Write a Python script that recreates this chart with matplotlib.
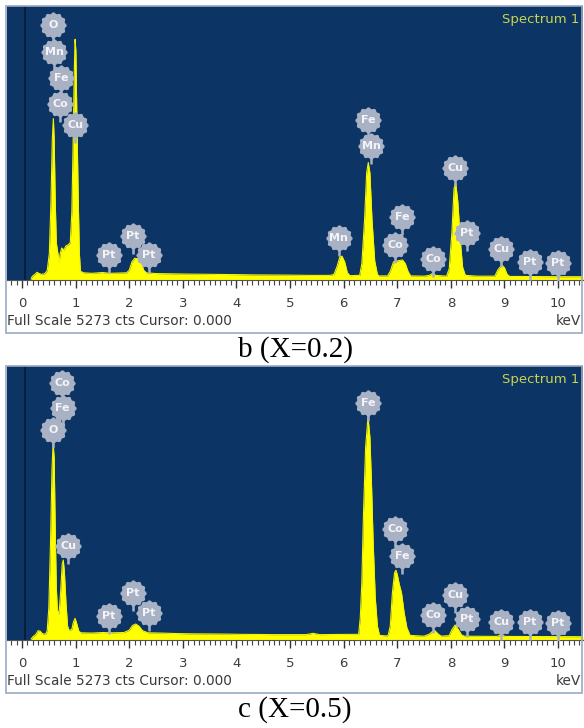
import numpy as np
import matplotlib.pyplot as plt
from matplotlib import transforms
from matplotlib.patches import Rectangle

plt.rcParams['font.family'] = ['DejaVu Sans']

W, H = 584, 728
FULL_SCALE = 5273

# EDS spectrum, sample b (X=0.2): energy (keV) and counts
energy_b = [0.17, 0.19, 0.24, 0.28, 0.31, 0.36, 0.42, 0.47, 0.51, 0.54, 0.565, 0.585,
            0.60, 0.62, 0.64, 0.66, 0.695, 0.71, 0.74, 0.78, 0.82, 0.86, 0.90, 0.93,
            0.955, 0.975, 0.99, 1.005, 1.025, 1.05, 1.07, 1.09, 1.15, 1.3, 1.5, 1.65,
            1.8, 1.95, 2.0, 2.05, 2.10, 2.18, 2.23, 2.27, 2.32, 2.5, 2.8, 3.1, 3.4,
            3.7, 4.0, 4.3, 4.6, 5.0, 5.4, 5.75, 5.82, 5.88, 5.93, 5.97, 6.02, 6.07,
            6.12, 6.30, 6.34, 6.39, 6.43, 6.46, 6.49, 6.53, 6.58, 6.63, 6.66, 6.82,
            6.87, 6.93, 7.0, 7.1, 7.15, 7.2, 7.25, 7.5, 7.6, 7.66, 7.72, 7.92, 7.97,
            8.02, 8.06, 8.09, 8.13, 8.18, 8.22, 8.27, 8.5, 8.82, 8.88, 8.95, 9.0,
            9.05, 9.1, 9.5, 10.0, 10.47]
counts_b = [0, 50, 90, 130, 110, 90, 100, 160, 500, 1500, 2700, 3100,
            2700, 1500, 700, 560, 330, 480, 600, 560, 640, 660, 700, 1300,
            2700, 4000, 4630, 4400, 3000, 1500, 500, 150, 120, 110, 125, 110,
            115, 120, 170, 330, 400, 390, 300, 170, 120, 105, 100, 95, 92,
            88, 85, 80, 78, 75, 70, 70, 90, 250, 430, 440, 330, 120,
            65, 70, 300, 1130, 2050, 2250, 2050, 1130, 350, 90, 60, 60,
            150, 330, 350, 367, 300, 150, 60, 55, 70, 110, 70, 55, 200,
            900, 1750, 1860, 1500, 700, 230, 70, 55, 55, 180, 270, 220,
            90, 50, 48, 45, 45]

# EDS spectrum, sample c (X=0.5)
energy_c = [0.17, 0.20, 0.26, 0.30, 0.34, 0.38, 0.44, 0.47, 0.50, 0.53, 0.56, 0.58,
            0.60, 0.62, 0.64, 0.66, 0.69, 0.72, 0.75, 0.77, 0.79, 0.82, 0.85, 0.88,
            0.93, 0.96, 0.99, 1.02, 1.06, 1.1, 1.3, 1.5, 1.7, 1.9, 2.0, 2.06, 2.12,
            2.18, 2.25, 2.35, 2.6, 2.9, 3.2, 3.5, 3.8, 4.1, 4.4, 4.7, 5.0, 5.3,
            5.43, 5.55, 5.9, 6.2, 6.28, 6.31, 6.34, 6.37, 6.41, 6.455, 6.49, 6.52,
            6.55, 6.59, 6.63, 6.67, 6.80, 6.83, 6.87, 6.91, 6.95, 6.975, 7.0, 7.04,
            7.08, 7.13, 7.18, 7.24, 7.5, 7.6, 7.69, 7.76, 7.82, 7.97, 8.02, 8.08,
            8.13, 8.2, 8.25, 8.85, 8.94, 9.02, 10.47]
counts_c = [0, 40, 90, 160, 150, 100, 95, 160, 600, 1800, 3300, 3780,
            3500, 2100, 1000, 560, 480, 900, 1450, 1525, 1300, 700, 250, 160,
            190, 330, 400, 300, 150, 120, 115, 125, 120, 125, 170, 260, 290,
            250, 160, 120, 115, 105, 100, 98, 95, 90, 88, 85, 85, 85,
            110, 85, 88, 90, 90, 400, 1100, 2400, 3700, 4290, 3900, 3000,
            1900, 800, 250, 70, 60, 70, 250, 890, 1280, 1330, 1250, 1050,
            890, 500, 220, 70, 55, 95, 174, 100, 55, 65, 180, 270,
            200, 80, 55, 50, 75, 50, 45]

# element markers: symbol, energy (keV), label height (counts)
labels_b = [("O", 0.58, 4900), ("Mn", 0.60, 4380), ("Fe", 0.73, 3880),
            ("Co", 0.71, 3380), ("Cu", 0.99, 2970), ("Pt", 1.62, 463),
            ("Pt", 2.07, 830), ("Pt", 2.37, 463), ("Fe", 6.46, 3070),
            ("Mn", 6.51, 2570), ("Mn", 5.91, 790), ("Fe", 7.09, 1200),
            ("Co", 6.96, 656), ("Co", 7.67, 386), ("Cu", 8.08, 2140),
            ("Pt", 8.30, 890), ("Cu", 8.94, 580), ("Pt", 9.48, 330),
            ("Pt", 10.0, 310)]
labels_c = [("Co", 0.75, 4940), ("Fe", 0.76, 4460), ("O", 0.58, 4030),
            ("Cu", 0.86, 1800), ("Pt", 1.62, 444), ("Pt", 2.07, 890),
            ("Pt", 2.37, 500), ("Fe", 6.46, 4550), ("Co", 6.96, 2120),
            ("Fe", 7.09, 1600), ("Co", 7.67, 463), ("Cu", 8.08, 850),
            ("Pt", 8.30, 386), ("Cu", 8.94, 328), ("Pt", 9.48, 328),
            ("Pt", 10.0, 309)]

captions = ["b (X=0.2)", "c (X=0.5)"]

BG = '#0c3464'
BADGE = '#a9b2c4'

# scalloped badge outline
theta = np.linspace(0, 2 * np.pi, 145)
rad = 1 + 0.06 * np.cos(12 * theta)
badge_marker = np.column_stack([rad * np.cos(theta), rad * np.sin(theta)])

fig = plt.figure(figsize=(W / 100, H / 100), dpi=100)


def px_rect(x0, y0, x1, y1):
    return [x0 / W, 1 - y1 / H, (x1 - x0) / W, (y1 - y0) / H]


def draw_panel(top, energy, counts, labels, caption):
    ax = fig.add_axes(px_rect(7, top, 583, top + 274))
    ax.set_facecolor(BG)
    ax.set_xlim(-0.28, 10.466)
    ax.set_ylim(-19, FULL_SCALE)

    ax.fill_between(energy, counts, -19, color='#ffff00', lw=0, zorder=2)
    ax.plot(energy, counts, color='#f4f400', lw=0.8, zorder=2)
    ax.axvline(0.056, color='#061a33', lw=1.2, zorder=1)

    # element badges with short stems
    xs = [l[1] for l in labels]
    ys = [l[2] for l in labels]
    stem_tr = transforms.offset_copy(ax.transData, fig=fig, x=0, y=-14, units='dots')
    ax.plot(xs, ys, ls='none', marker='|', ms=6, mew=1.8, color=BADGE,
            transform=stem_tr, zorder=3)
    ax.plot(xs, ys, ls='none', marker=badge_marker, ms=19, mew=0,
            color=BADGE, zorder=4)
    for name, e, c in labels:
        ax.text(e, c, name, ha='center', va='center', fontsize=8,
                fontweight='bold', color='#f2f4f8', zorder=5)

    ax.text(0.993, 0.975, 'Spectrum 1', transform=ax.transAxes, ha='right',
            va='top', fontsize=9.5, color='#c8d64e')

    ax.set_yticks([])
    ax.set_xticks(range(0, 11))
    ax.set_xticks(np.arange(-0.2, 10.45, 0.1), minor=True)
    ax.tick_params(axis='x', which='major', direction='out', length=6, width=1,
                   color='#333333', labelsize=9.5, labelcolor='#3c3c3c', pad=6)
    ax.tick_params(axis='x', which='minor', direction='out', length=3.5,
                   width=0.8, color='#444444')
    for s in ('top', 'left', 'right'):
        ax.spines[s].set_visible(False)
    ax.spines['bottom'].set_color('#555555')

    fig.add_artist(Rectangle((6 / W, 1 - (top + 53 + 274) / H), 576 / W,
                             (274 + 53) / H, transform=fig.transFigure,
                             fill=False, edgecolor='#9aaac4', lw=1.2))
    fig.text(7 / W, 1 - (top + 315) / H, 'Full Scale 5273 cts Cursor: 0.000',
             va='center', fontsize=9.8, color='#3a3a3a')
    fig.text(581 / W, 1 - (top + 315) / H, 'keV', ha='right', va='center',
             fontsize=9.8, color='#3a3a3a')
    fig.text(295 / W, 1 - (top + 344) / H, caption, ha='center', va='center',
             family='Liberation Serif', fontsize=21, color='black')


draw_panel(6, energy_b, counts_b, labels_b, captions[0])
draw_panel(366, energy_c, counts_c, labels_c, captions[1])

fig.savefig('out.png', dpi=100)
